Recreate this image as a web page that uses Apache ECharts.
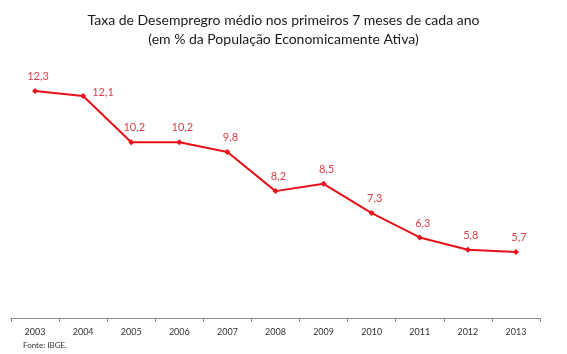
<!DOCTYPE html>
<html><head><meta charset="utf-8">
<script src="https://cdn.jsdelivr.net/npm/echarts@6/dist/echarts.min.js"></script>
<style>html,body{margin:0;padding:0;background:#fff}#c{width:567px;height:354px}</style>
</head><body><div id="c"></div>
<script>
var categories = ['2003','2004','2005','2006','2007','2008','2009','2010','2011','2012','2013'];
var values = [12.3, 12.1, 10.2, 10.2, 9.8, 8.2, 8.5, 7.3, 6.3, 5.8, 5.7];
var titleLines = ['Taxa de Desempregro médio nos primeiros 7 meses de cada ano', '(em % da População Economicamente Ativa)'];
var sourceNote = 'Fonte: IBGE.';

var chart = echarts.init(document.getElementById('c'), null, {renderer:'canvas'});
var seriesData = values.map(function(v, i){
  var item = {value: v};
  if (i === 1) item.label = {position: 'right', offset: [0, -4]};
  return item;
});
chart.setOption({
  animation: false,
  title: [{
    text: titleLines.join('\n'),
    left: 'center', top: 6,
    textStyle: {fontFamily: 'Lato', fontSize: 14, fontWeight: 'normal', color: '#1a1a1a', lineHeight: 19}
  },{
    text: sourceNote, left: 18, top: 336,
    textStyle: {fontFamily: 'Lato', fontSize: 8, fontWeight: 'normal', color: '#333'}
  }],
  grid: {left: 11, right: 27, top: 74, bottom: 36},
  xAxis: {
    type: 'category', data: categories, boundaryGap: true,
    axisLine: {lineStyle: {color: '#8c8c8c', width: 1}},
    axisTick: {show: true, length: 4, lineStyle: {color: '#8c8c8c'}},
    axisLabel: {fontFamily: 'Lato', fontSize: 9, color: '#333', margin: 10}
  },
  yAxis: {type: 'value', min: 3, max: 13, show: false, splitLine: {show: false}},
  series: [{
    type: 'line', data: seriesData,
    symbol: 'diamond', symbolSize: 6,
    lineStyle: {color: '#e8101a', width: 2},
    itemStyle: {color: '#e8101a'},
    label: {
      show: true, position: 'top', distance: 6, offset: [3, 0],
      fontFamily: 'Lato', fontSize: 11, color: '#e0404a',
      formatter: function(p){ return String(p.value).replace('.', ','); }
    }
  }]
});
</script></body></html>
